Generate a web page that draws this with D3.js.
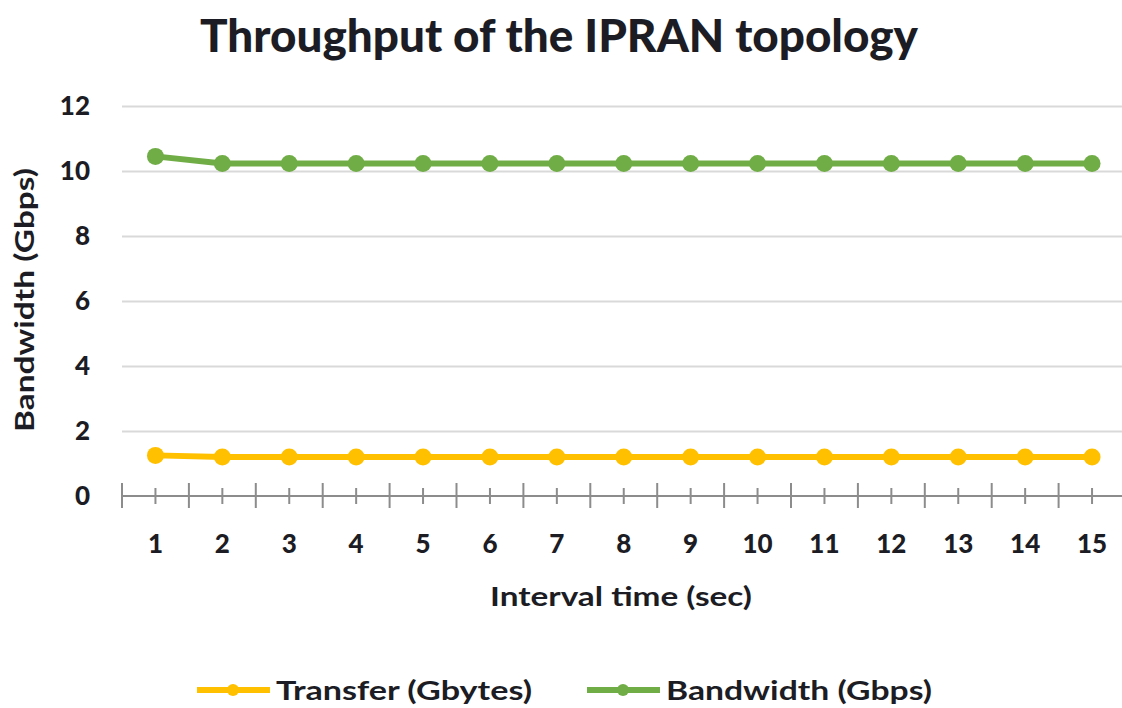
<!DOCTYPE html>
<html>
<head>
<meta charset="utf-8">
<script src="https://cdn.jsdelivr.net/npm/d3@7"></script>
<style>
  body { margin: 0; background: #fff; }
  svg text { font-family: Lato, "DejaVu Sans", sans-serif; font-weight: bold; fill: #1c1c24; }
</style>
</head>
<body>
<div id="chart"></div>
<script>
// data
var intervals = [1, 2, 3, 4, 5, 6, 7, 8, 9, 10, 11, 12, 13, 14, 15];
var transfer  = [1.25, 1.2, 1.2, 1.2, 1.2, 1.2, 1.2, 1.2, 1.2, 1.2, 1.2, 1.2, 1.2, 1.2, 1.2];
var bandwidth = [10.45, 10.23, 10.23, 10.23, 10.23, 10.23, 10.23, 10.23, 10.23, 10.23, 10.23, 10.23, 10.23, 10.23, 10.23];
var yTicks = [0, 2, 4, 6, 8, 10, 12];
var seriesNames = ['Transfer (Gbytes)', 'Bandwidth (Gbps)'];
var seriesColors = ['#ffc000', '#70ad47'];

var W = 1122, H = 708;

var svg = d3.select('#chart').append('svg')
    .attr('width', W)
    .attr('height', H);

var x = d3.scaleBand()
    .domain(intervals)
    .range([122, 1125.5]);

var y = d3.scaleLinear()
    .domain([0, 12])
    .range([496, 106]);

// title
svg.append('text')
    .attr('x', 559)
    .attr('y', 52)
    .attr('text-anchor', 'middle')
    .attr('font-size', 45)
    .style('font-weight', 900)
    .attr('textLength', 718)
    .attr('lengthAdjust', 'spacingAndGlyphs')
    .text('Throughput of the IPRAN topology');

// gridlines
var grid = svg.append('g')
    .attr('transform', 'translate(122,0)')
    .call(d3.axisLeft(y).tickValues(yTicks.slice(1)).tickSize(-1010).tickFormat(''));
grid.select('.domain').remove();
grid.selectAll('line').attr('stroke', '#d9d9d9').attr('stroke-width', 2);

// y tick labels
svg.append('g').selectAll('text')
    .data(yTicks)
    .enter().append('text')
      .attr('x', 90)
      .attr('y', function(d) { return y(d); })
      .attr('dy', '0.36em')
      .attr('text-anchor', 'end')
      .attr('font-size', 26)
      .style('font-weight', 900)
      .text(function(d) { return d; });

// x axis: short ticks at the category centres
var xAxis = svg.append('g')
    .attr('transform', 'translate(0,' + y(0) + ')')
    .call(d3.axisBottom(x).tickSize(8).tickSizeOuter(0).tickFormat(''));
xAxis.select('.domain').remove();
xAxis.selectAll('.tick line').attr('y1', -8).attr('stroke', '#8c8c8c').attr('stroke-width', 2);

svg.append('line')
    .attr('x1', x.range()[0]).attr('x2', x.range()[1])
    .attr('y1', y(0)).attr('y2', y(0))
    .attr('stroke', '#8c8c8c').attr('stroke-width', 2);

// long ticks between categories
var bounds = intervals.map(function(d) { return x(d); });
svg.append('g').selectAll('line')
    .data(bounds)
    .enter().append('line')
      .attr('x1', function(d) { return d; })
      .attr('x2', function(d) { return d; })
      .attr('y1', y(0) - 13)
      .attr('y2', y(0) + 12)
      .attr('stroke', '#8c8c8c')
      .attr('stroke-width', 2);

// x tick labels
svg.append('g').selectAll('text')
    .data(intervals)
    .enter().append('text')
      .attr('x', function(d) { return x(d) + x.bandwidth() / 2; })
      .attr('y', 553)
      .attr('text-anchor', 'middle')
      .attr('font-size', 26)
      .style('font-weight', 900)
      .text(function(d) { return d; });

// axis titles
svg.append('text')
    .attr('x', 621)
    .attr('y', 606)
    .attr('text-anchor', 'middle')
    .attr('font-size', 26)
    .attr('textLength', 262)
    .attr('lengthAdjust', 'spacingAndGlyphs')
    .text('Interval time (sec)');

svg.append('text')
    .attr('transform', 'translate(34,300) rotate(-90)')
    .attr('text-anchor', 'middle')
    .attr('font-size', 26)
    .attr('textLength', 264)
    .attr('lengthAdjust', 'spacingAndGlyphs')
    .text('Bandwidth (Gbps)');

// series
var series = [transfer, bandwidth];
var line = d3.line()
    .x(function(d, i) { return x(intervals[i]) + x.bandwidth() / 2; })
    .y(function(d) { return y(d); });

series.forEach(function(vals, k) {
  svg.append('path')
      .datum(vals)
      .attr('d', line)
      .attr('fill', 'none')
      .attr('stroke', seriesColors[k])
      .attr('stroke-width', 6)
      .attr('stroke-linejoin', 'round');

  svg.append('g').selectAll('circle')
      .data(vals)
      .enter().append('circle')
        .attr('cx', function(d, i) { return x(intervals[i]) + x.bandwidth() / 2; })
        .attr('cy', function(d) { return y(d); })
        .attr('r', 8.5)
        .attr('fill', seriesColors[k]);
});

// legend
var legendX = [197, 587];
var legendW = [256, 266];
var legend = svg.append('g').selectAll('g')
    .data(seriesNames)
    .enter().append('g')
      .attr('transform', function(d, i) { return 'translate(' + legendX[i] + ',690)'; });

legend.append('line')
    .attr('x1', 0).attr('x2', 73)
    .attr('stroke', function(d, i) { return seriesColors[i]; })
    .attr('stroke-width', 6);

legend.append('circle')
    .attr('cx', 36)
    .attr('r', 6)
    .attr('fill', function(d, i) { return seriesColors[i]; });

legend.append('text')
    .attr('x', 79)
    .attr('y', 10)
    .attr('font-size', 26)
    .attr('textLength', function(d, i) { return legendW[i]; })
    .attr('lengthAdjust', 'spacingAndGlyphs')
    .text(function(d) { return d; });
</script>
</body>
</html>
